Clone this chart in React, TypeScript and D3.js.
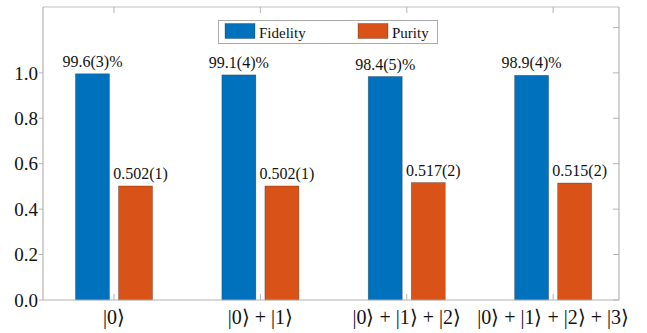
import * as d3 from 'd3'

const categories = ['|0⟩', '|0⟩ + |1⟩', '|0⟩ + |1⟩ + |2⟩', '|0⟩ + |1⟩ + |2⟩ + |3⟩']
const fidelity = [0.996, 0.991, 0.984, 0.989]
const fidelityLabels = ['99.6(3)%', '99.1(4)%', '98.4(5)%', '98.9(4)%']
const purity = [0.502, 0.502, 0.517, 0.515]
const purityLabels = ['0.502(1)', '0.502(1)', '0.517(2)', '0.515(2)']
const yTicksLeft = [0, 0.2, 0.4, 0.6, 0.8, 1.0]
const yTicksRight = [0, 0.2, 0.4, 0.6, 0.8, 1.0, 1.2]

const W = 647
const H = 333
const BLUE = '#0072BD'
const ORANGE = '#D95319'
const AXIS = '#b4b4b4'

function T(props: any) {
  const { children, ...rest } = props
  return (
    <text fill="#111" fontFamily="Liberation Serif" style={{ fontFamily: "'Liberation Serif'" }} {...rest}>
      {children}
    </text>
  )
}

export default function App() {
  const plot = { left: 43, right: 619, top: 7, bottom: 300 }
  const x = d3.scaleLinear().domain([0.515, 4.45]).range([plot.left, plot.right])
  const y = d3.scaleLinear().domain([0, 1.29]).range([plot.bottom, plot.top])
  const barW = x(0.232) - x(0)
  const off = x(0.147) - x(0)

  const series = [
    { name: 'Fidelity', values: fidelity, labels: fidelityLabels, color: BLUE, dx: -off, labelDx: 0 },
    { name: 'Purity', values: purity, labels: purityLabels, color: ORANGE, dx: off, labelDx: 5 },
  ]

  return (
    <svg width={W} height={H} style={{ position: 'absolute', left: 0, top: 0 }}>
      <rect x={0} y={0} width={W} height={H} fill="#fff" />

      {/* bars */}
      {series.map(s =>
        s.values.map((v, i) => (
          <rect
            key={s.name + i}
            x={x(i + 1) + s.dx - barW / 2}
            y={y(v)}
            width={barW}
            height={y(0) - y(v)}
            fill={s.color}
            stroke="#000"
            strokeOpacity={0.35}
            strokeWidth={0.7}
          />
        ))
      )}

      {/* value labels */}
      {series.map(s =>
        s.values.map((v, i) => (
          <T key={'l' + s.name + i} x={x(i + 1) + s.dx + s.labelDx} y={y(v) - 7} textAnchor="middle" fontSize={16}>
            {s.labels[i]}
          </T>
        ))
      )}

      {/* axes box */}
      <line x1={plot.left} x2={plot.right} y1={plot.top} y2={plot.top} stroke="#d6d6d6" strokeWidth={1.3} />
      <line x1={plot.left} x2={plot.right} y1={plot.bottom} y2={plot.bottom} stroke={AXIS} strokeWidth={1.2} />
      <line x1={plot.left} x2={plot.left} y1={plot.top} y2={plot.bottom} stroke={AXIS} strokeWidth={1.2} />
      <line x1={plot.right} x2={plot.right} y1={plot.top} y2={plot.bottom} stroke={AXIS} strokeWidth={1.2} />

      {/* left ticks + labels */}
      {yTicksLeft.map(t => (
        <g key={'yl' + t}>
          <line x1={plot.left - 4} x2={plot.left} y1={y(t)} y2={y(t)} stroke={AXIS} />
          <T x={plot.left - 5} y={y(t)} dy="0.35em" textAnchor="end" fontSize={19}>
            {d3.format('.1f')(t)}
          </T>
        </g>
      ))}

      {/* right ticks */}
      {yTicksRight.map(t => (
        <line key={'yr' + t} x1={plot.right - 6} x2={plot.right} y1={y(t)} y2={y(t)} stroke={AXIS} />
      ))}

      {/* top / bottom ticks + category labels */}
      {categories.map((c, i) => (
        <g key={'x' + i}>
          <line x1={x(i + 1)} x2={x(i + 1)} y1={plot.top} y2={plot.top + 6} stroke={AXIS} />
          <line x1={x(i + 1)} x2={x(i + 1)} y1={plot.bottom} y2={plot.bottom - 6} stroke={AXIS} />
          <T x={x(i + 1)} y={plot.bottom + 24} textAnchor="middle" fontSize={20}>
            {c}
          </T>
        </g>
      ))}

      {/* legend */}
      <g>
        <rect x={218.5} y={20.5} width={219} height={23} fill="#fff" stroke="#aaa" strokeWidth={1} />
        <rect x={225} y={23.5} width={30} height={15} fill={BLUE} stroke="#000" strokeOpacity={0.35} strokeWidth={0.7} />
        <T x={259} y={37.5} fontSize={15}>Fidelity</T>
        <rect x={358} y={23.5} width={30} height={15} fill={ORANGE} stroke="#000" strokeOpacity={0.35} strokeWidth={0.7} />
        <T x={392} y={37.5} fontSize={15}>Purity</T>
      </g>
    </svg>
  )
}
